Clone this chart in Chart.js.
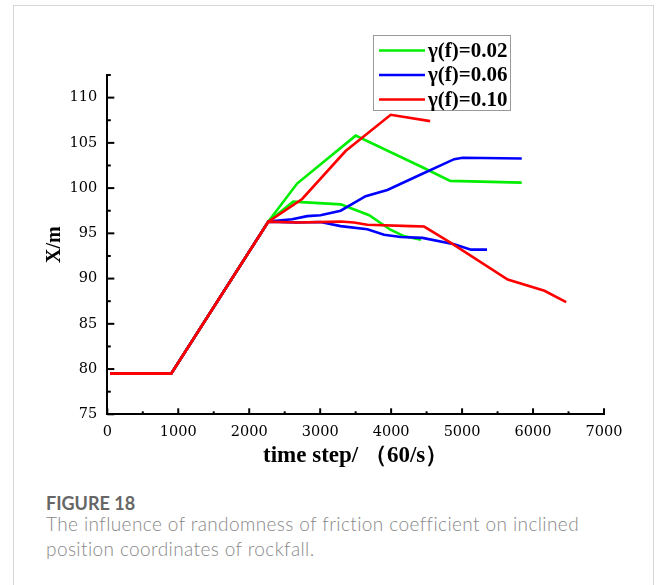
<!DOCTYPE html>
<html>
<head>
<meta charset="utf-8">
<script src="https://cdn.jsdelivr.net/npm/chart.js@4.4.0/dist/chart.umd.min.js"></script>
<style>
  html, body { margin: 0; padding: 0; background: #fff; width: 656px; height: 585px; overflow: hidden; }
  #card { position: absolute; left: 13px; top: 5px; width: 641px; height: 620px; border: 1px solid #d6d6d6; box-sizing: border-box; }
  #wrap { position: absolute; left: 0; top: 0; width: 656px; height: 480px; }
  .cap { position: absolute; left: 46px; font-family: Lato, "Open Sans", sans-serif; white-space: nowrap; }
  #fig { top: 492px; font-size: 18px; font-weight: bold; color: #666; line-height: 22px; }
  #txt { top: 510.5px; font-size: 19px; font-weight: 300; line-height: 25px; color: #888; letter-spacing: 0.4px; }
</style>
</head>
<body>
<div id="card"></div>
<div id="wrap"><canvas id="c" width="656" height="480"></canvas></div>
<div id="fig" class="cap">FIGURE 18</div>
<div id="txt" class="cap">The influence of randomness of friction coefficient on inclined<br>position coordinates of rockfall.</div>
<script>
// ---- data ----
const seriesLabels = ["γ(f)=0.02", "γ(f)=0.06", "γ(f)=0.10"];
const xTicks = [0, 1000, 2000, 3000, 4000, 5000, 6000, 7000];
const yTicks = [75, 80, 85, 90, 95, 100, 105, 110];

const green1X = [40, 900, 2270, 2675, 3500, 4440, 4833, 5840];
const green1Y = [79.5, 79.5, 96.3, 100.5, 105.8, 102.3, 100.8, 100.6];
const green2X = [40, 900, 2270, 2620, 3290, 3690, 3990, 4180, 4420];
const green2Y = [79.5, 79.5, 96.3, 98.5, 98.2, 97.0, 95.4, 94.7, 94.3];

const blue1X = [40, 900, 2270, 2605, 2817, 3005, 3288, 3641, 3947, 4418, 4889, 5007, 5841];
const blue1Y = [79.5, 79.5, 96.3, 96.55, 96.9, 97.0, 97.5, 99.1, 99.8, 101.5, 103.2, 103.35, 103.27];
const blue2X = [40, 900, 2270, 2675, 3005, 3288, 3665, 3900, 4136, 4442, 4889, 5125, 5351];
const blue2Y = [79.5, 79.5, 96.3, 96.2, 96.25, 95.8, 95.45, 94.85, 94.6, 94.5, 93.8, 93.2, 93.2];

const red1X = [40, 900, 2270, 2746, 3358, 3994, 4550];
const red1Y = [79.5, 79.5, 96.3, 98.8, 104.1, 108.1, 107.4];
const red2X = [40, 900, 2270, 2675, 3288, 3476, 3665, 4277, 4465, 4842, 5643, 6161, 6467];
const red2Y = [79.5, 79.5, 96.3, 96.2, 96.3, 96.2, 95.95, 95.8, 95.75, 93.95, 89.9, 88.65, 87.4];

const COLORS = ["#00ee00", "#0000ff", "#ff0000"];

function pts(xs, ys) { return xs.map((x, i) => ({ x: x, y: ys[i] })); }
function ds(label, color, xs, ys, order, inLegend) {
  return { label: label, data: pts(xs, ys), borderColor: color, backgroundColor: color,
           borderWidth: 2.6, pointRadius: 0, showLine: true, fill: false, tension: 0,
           order: order, inLegend: inLegend };
}

const datasets = [
  ds(seriesLabels[0], COLORS[0], green1X, green1Y, 3, true),
  ds(seriesLabels[0], COLORS[0], green2X, green2Y, 3, false),
  ds(seriesLabels[1], COLORS[1], blue1X, blue1Y, 2, true),
  ds(seriesLabels[1], COLORS[1], blue2X, blue2Y, 2, false),
  ds(seriesLabels[2], COLORS[2], red1X, red1Y, 1, true),
  ds(seriesLabels[2], COLORS[2], red2X, red2Y, 1, false)
];

const SERIF = "'Liberation Serif', 'Times New Roman', serif";
const TICKFONT = "'DejaVu Serif', serif";

// inward major/minor ticks
const tickPlugin = {
  id: 'inTicks',
  afterDraw(chart) {
    const ctx = chart.ctx, xs = chart.scales.x, ys = chart.scales.y;
    const a = chart.chartArea;
    ctx.save();
    ctx.strokeStyle = '#000';
    ctx.lineWidth = 2;
    for (let v = xs.min; v <= xs.max + 1e-6; v += 500) {
      const p = xs.getPixelForValue(v);
      const major = Math.abs(v % 1000) < 1e-6;
      ctx.beginPath(); ctx.moveTo(p, a.bottom); ctx.lineTo(p, a.bottom - (major ? 6 : 3)); ctx.stroke();
    }
    for (let v = ys.min; v <= ys.max + 1e-6; v += 2.5) {
      const p = ys.getPixelForValue(v);
      const major = Math.abs(v % 5) < 1e-6;
      ctx.beginPath(); ctx.moveTo(a.left, p); ctx.lineTo(a.left + (major ? 7 : 3.5), p); ctx.stroke();
    }
    ctx.restore();
  }
};

// boxed legend inside the plot
const legendPlugin = {
  id: 'boxLegend',
  afterDraw(chart) {
    const ctx = chart.ctx;
    const items = chart.data.datasets.filter(d => d.inLegend);
    const bx = 373.5, by = 35.5, bw = 137, bh = 75;
    ctx.save();
    ctx.fillStyle = '#fff';
    ctx.fillRect(bx, by, bw, bh);
    ctx.strokeStyle = '#999';
    ctx.lineWidth = 1;
    ctx.strokeRect(bx, by, bw, bh);
    ctx.font = "bold 21px " + SERIF;
    ctx.textBaseline = 'middle';
    ctx.fillStyle = '#000';
    items.forEach((d, i) => {
      const y = 50.5 + i * 24.5;
      ctx.strokeStyle = d.borderColor;
      ctx.lineWidth = 2.6;
      ctx.beginPath(); ctx.moveTo(379, y); ctx.lineTo(425, y); ctx.stroke();
      ctx.fillText(d.label, 428, y + 1);
    });
    ctx.restore();
  }
};

new Chart(document.getElementById('c'), {
  type: 'scatter',
  data: { datasets: datasets },
  options: {
    responsive: false,
    animation: false,
    layout: { padding: { left: 0, top: 75, right: 52, bottom: 0 } },
    plugins: { legend: { display: false }, tooltip: { enabled: false } },
    scales: {
      x: {
        type: 'linear', min: 0, max: 7000,
        grid: { display: false, drawTicks: false },
        border: { display: true, color: '#000', width: 2 },
        afterBuildTicks: s => { s.ticks = xTicks.map(v => ({ value: v })); },
        afterFit: s => { s.height = 65.7; },
        ticks: { color: '#000', font: { family: TICKFONT, size: 14.5 }, padding: 9, maxRotation: 0, autoSkip: false,
                 callback: v => String(v) },
        title: { display: true, text: 'time step/ （60/s）', color: '#000',
                 font: { family: SERIF, size: 23, weight: 'bold' }, padding: { top: 0, bottom: 10 } }
      },
      y: {
        type: 'linear', min: 75, max: 112.5,
        grid: { display: false, drawTicks: false },
        border: { display: true, color: '#000', width: 2 },
        afterBuildTicks: s => { s.ticks = yTicks.map(v => ({ value: v })); },
        afterFit: s => { s.width = 107.3; },
        ticks: { color: '#000', font: { family: TICKFONT, size: 14.5 }, padding: 10, callback: v => String(v) },
        title: { display: true, text: 'X/m', color: '#000',
                 font: { family: SERIF, size: 20, weight: 'bold' }, padding: { top: 43, bottom: 0 } }
      }
    }
  },
  plugins: [tickPlugin, legendPlugin]
});
</script>
</body>
</html>
